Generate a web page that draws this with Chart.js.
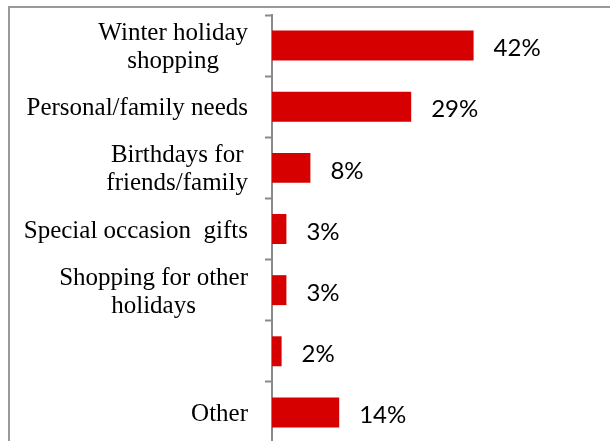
<!DOCTYPE html>
<html>
<head>
<meta charset="utf-8">
<script src="https://cdn.jsdelivr.net/npm/chart.js@4.4.1/dist/chart.umd.min.js"></script>
<style>
    html, body { margin: 0; padding: 0; background: #fff; overflow: hidden; }
    #frame {
        position: absolute; left: 8px; top: 6px;
        width: 600px; height: 440px;
        border-left: 2px solid #9a9a9a;
        border-top: 2px solid #9a9a9a;
    }
    #frame canvas { display: block; }
</style>
</head>
<body>
<div id="frame"><canvas id="barChart" width="600" height="440"></canvas></div>
<script>
const categories = [
    ['Winter holiday', 'shopping'],
    'Personal/family needs',
    ['Birthdays for', 'friends/family'],
    'Special occasion  gifts',
    ['Shopping for other', 'holidays'],
    '',
    'Other'
];
const shares = [42, 29, 8, 3, 3, 2, 14];

const labelFont = '25px "Liberation Serif"';
const labelLine = 28;

// category labels: block right-aligned to the axis, lines centred inside the block
const categoryLabels = {
    id: 'categoryLabels',
    afterDraw(chart) {
        const ctx = chart.ctx;
        const y = chart.scales.y;
        const right = y.right - 7 - 17;
        ctx.save();
        ctx.font = labelFont;
        ctx.fillStyle = '#000';
        ctx.textAlign = 'center';
        ctx.textBaseline = 'middle';
        categories.forEach((lab, i) => {
            const lines = Array.isArray(lab) ? lab : [lab];
            const maxW = Math.max(...lines.map(l => ctx.measureText(l).width));
            const cx = right - maxW / 2;
            const cy = y.getPixelForValue(i) + 2;
            lines.forEach((line, j) => {
                ctx.fillText(line, cx, cy + (j - (lines.length - 1) / 2) * labelLine);
            });
        });
        ctx.restore();
    }
};

// draws the "42%" style labels to the right of each bar
const valueLabels = {
    id: 'valueLabels',
    afterDatasetsDraw(chart) {
        const ctx = chart.ctx;
        const meta = chart.getDatasetMeta(0);
        ctx.save();
        ctx.font = '24px Lato';
        ctx.fillStyle = '#000';
        ctx.textAlign = 'left';
        ctx.textBaseline = 'middle';
        meta.data.forEach((bar, i) => {
            ctx.fillText(shares[i] + '%', bar.x + 20, bar.y + 3);
        });
        ctx.restore();
    }
};

const ctx = document.getElementById('barChart').getContext('2d');
new Chart(ctx, {
    type: 'bar',
    data: {
        labels: categories,
        datasets: [{
            data: shares,
            backgroundColor: '#d60000',
            borderWidth: 0,
            barPercentage: 0.49,
            categoryPercentage: 1
        }]
    },
    options: {
        indexAxis: 'y',
        responsive: false,
        animation: false,
        layout: { padding: { top: 7, right: 50, bottom: 5, left: 0 } },
        plugins: {
            legend: { display: false },
            tooltip: { enabled: false }
        },
        scales: {
            x: {
                display: false,
                min: 0,
                max: 60
            },
            y: {
                afterFit(scale) {
                    scale.width = 262;
                    scale.paddingTop = 0;
                    scale.paddingBottom = 0;
                },
                grid: {
                    offset: true,
                    drawOnChartArea: false,
                    tickLength: 7,
                    tickWidth: 2,
                    color: '#8a8a8a'
                },
                border: { color: '#8a8a8a', width: 2 },
                ticks: { display: false }
            }
        }
    },
    plugins: [valueLabels, categoryLabels]
});
</script>
</body>
</html>
